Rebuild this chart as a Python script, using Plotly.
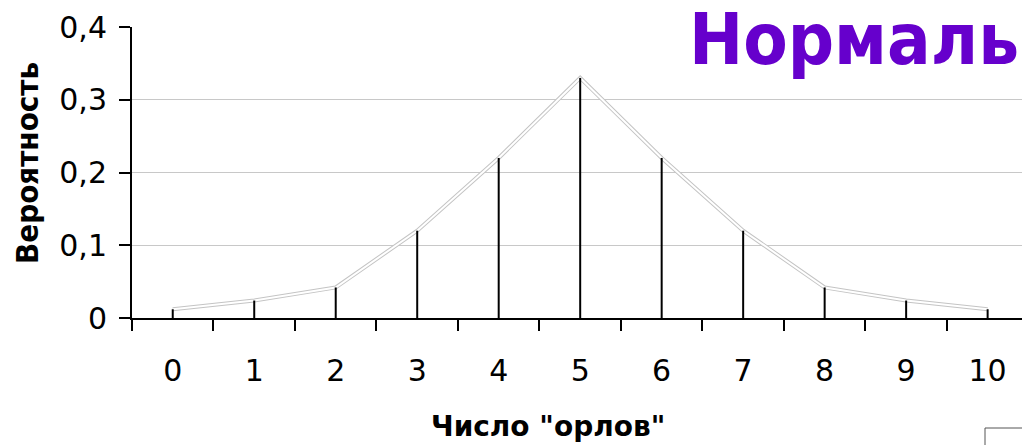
import plotly.graph_objects as go

categories = ["0", "1", "2", "3", "4", "5", "6", "7", "8", "9", "10"]
probabilities = [0.012, 0.024, 0.042, 0.12, 0.22, 0.33, 0.22, 0.12, 0.042, 0.024, 0.012]
y_tick_values = [0, 0.1, 0.2, 0.3, 0.4]
y_tick_labels = ["0", "0,1", "0,2", "0,3", "0,4"]

title_text = "Нормаль"
x_title = 'Число "орлов"'
y_title = "Вероятность"

FONT = "DejaVu Sans"
FONT_COND = "DejaVu Sans Condensed"

# page has an 8px body margin; figure coordinates = page coordinates - 8
OFF = 8
W, H = 1030 - OFF, 445 - OFF
L, T = 132 - OFF, 27 - OFF
PW, PH = W - L, 291
B = H - T - PH


def px_x(p):  # page pixel -> paper x
    return (p - OFF - L) / PW


def px_y(p):  # page pixel -> paper y
    return (T + PH - (p - OFF)) / PH


fig = go.Figure()

# double-line connector: gray outline, white core
fig.add_trace(go.Scatter(x=categories, y=probabilities, mode="lines",
                         line=dict(color="#c4c4c4", width=4), hoverinfo="skip",
                         showlegend=False))
fig.add_trace(go.Scatter(x=categories, y=probabilities, mode="lines",
                         line=dict(color="white", width=2), hoverinfo="skip",
                         showlegend=False))
# drop lines from each point down to zero
fig.add_trace(go.Scatter(x=categories, y=probabilities, mode="markers",
                         marker=dict(size=1, color="rgba(0,0,0,0)"),
                         error_y=dict(type="data", symmetric=False,
                                      array=[0] * len(probabilities),
                                      arrayminus=probabilities,
                                      color="black", thickness=2, width=0),
                         showlegend=False))

fig.update_layout(
    width=W, height=H,
    margin=dict(l=L, r=0, t=T, b=B),
    paper_bgcolor="white", plot_bgcolor="white",
    font=dict(family=FONT, color="black"),
    showlegend=False,
    annotations=[
        dict(text=f"<b>{title_text}</b>", xref="paper", yref="paper",
             x=px_x(687), y=px_y(-5), xanchor="left", yanchor="top",
             showarrow=False, font=dict(family=FONT_COND, size=72, color="#6600CC")),
        dict(text=f"<b>{x_title}</b>", xref="paper", yref="paper",
             x=px_x(548), y=px_y(426), xanchor="center", yanchor="middle",
             showarrow=False, font=dict(family=FONT, size=28)),
        dict(text=f"<b>{y_title}</b>", xref="paper", yref="paper",
             x=px_x(27), y=px_y(163), xanchor="center", yanchor="middle",
             textangle=-90, showarrow=False, font=dict(family=FONT_COND, size=31)),
    ],
    shapes=[dict(type="rect", xref="paper", yref="paper",
                 x0=px_x(985), x1=px_x(1045), y0=px_y(428), y1=px_y(460),
                 line=dict(color="#555555", width=1))],
)

fig.update_xaxes(
    type="category", range=[-0.5, 10.52], automargin=False,
    showline=True, linecolor="black", linewidth=2,
    ticks="outside", tickson="boundaries", ticklen=11, tickwidth=2, tickcolor="black",
    tickfont=dict(family=FONT, size=30), ticklabelstandoff=25,
    showgrid=False, zeroline=False,
)
fig.update_yaxes(
    range=[0, 0.4], automargin=False,
    tickvals=y_tick_values, ticktext=y_tick_labels,
    showline=True, linecolor="black", linewidth=2,
    ticks="outside", ticklen=11, tickwidth=2, tickcolor="black",
    tickfont=dict(family=FONT, size=30), ticklabelstandoff=6,
    showgrid=True, gridcolor="#c8c8c8", gridwidth=1, zeroline=False,
)

fig.write_html("out.html")
